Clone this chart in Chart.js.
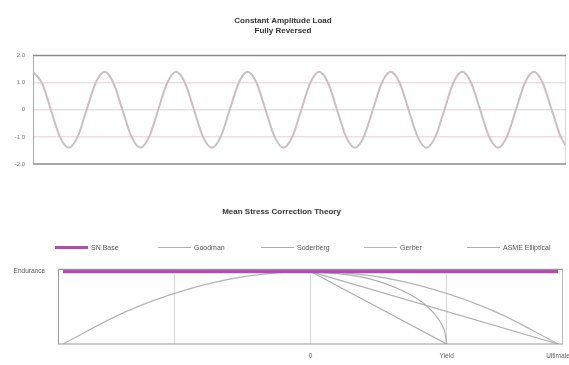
<!DOCTYPE html>
<html>
<head>
<meta charset="utf-8">
<script src="https://cdn.jsdelivr.net/npm/chart.js@4"></script>
<style>
html,body{margin:0;padding:0;background:#fff;width:569px;height:365px;overflow:hidden;font-family:'Liberation Sans',Arial,sans-serif;}
#c1{position:absolute;left:0;top:0;}
#c2{position:absolute;left:0;top:188px;}
#legend{position:absolute;left:55px;top:242px;display:flex;}
.li{width:103px;display:flex;align-items:center;font-size:7px;color:#555;height:10px;}
.ln{width:33px;margin-right:3px;}
</style>
</head>
<body>
<canvas id="c1" width="569" height="188"></canvas>
<canvas id="c2" width="569" height="177"></canvas>
<div id="legend"></div>
<script>
// ---------- Top chart data ----------
const loadTime = [
 0,0.125,0.25,0.375,0.5,0.625,0.75,0.875,
 1,1.125,1.25,1.375,1.5,1.625,1.75,1.875,
 2,2.125,2.25,2.375,2.5,2.625,2.75,2.875,
 3,3.125,3.25,3.375,3.5,3.625,3.75,3.875,
 4,4.125,4.25,4.375,4.5,4.625,4.75,4.875,
 5,5.125,5.25,5.375,5.5,5.625,5.75,5.875,
 6,6.125,6.25,6.375,6.5,6.625,6.75,6.875,
 7,7.125,7.25,7.375,7.45
];
const loadStress = [
 1.4,0.99,0,-0.99,-1.4,-0.99,0,0.99,
 1.4,0.99,0,-0.99,-1.4,-0.99,0,0.99,
 1.4,0.99,0,-0.99,-1.4,-0.99,0,0.99,
 1.4,0.99,0,-0.99,-1.4,-0.99,0,0.99,
 1.4,0.99,0,-0.99,-1.4,-0.99,0,0.99,
 1.4,0.99,0,-0.99,-1.4,-0.99,0,0.99,
 1.4,0.99,0,-0.99,-1.4,-0.99,0,0.99,
 1.4,0.99,0,-0.99,-1.33
];
const loadTickValues = [-2,-1,0,1,2];
const loadTickLabels = ['-2.0','-1.0','0','1.0','2.0'];

// ---------- Bottom chart data ----------
const snBaseSm = [-100, 100];
const snBaseSa = [1, 1];
const goodmanSm = [0, 100];
const goodmanSa = [1, 0];
const soderbergSm = [0, 55];
const soderbergSa = [1, 0];
const gerberSm = [-100,-75,-50,-25,0,25,50,75,100];
const gerberSa = [0,0.44,0.75,0.94,1,0.94,0.75,0.44,0];
const asmeSm = [0,20,35,45,50,53,54.3,55];
const asmeSa = [1,0.93,0.77,0.58,0.42,0.27,0.16,0];
const theoryNames = ['SN Base','Goodman','Soderberg','Gerber','ASME Elliptical'];
const msTickValues = [-55, 0, 55, 100];
const msTickLabels = ['', '0', 'Yield', 'Ultimate'];
const msYTickValues = [1];
const msYTickLabels = ['Endurance'];

const FONT = "'Liberation Sans', Arial, sans-serif";
function pts(xs, ys){ return xs.map((x,i)=>({x:x,y:ys[i]})); }

const framePlugin = {
  id:'frame',
  afterDraw(chart, args, o){
    const a = chart.chartArea, ctx = chart.ctx;
    ctx.save();
    ctx.lineWidth = 1;
    ctx.strokeStyle = o.side || '#aaa';
    ctx.beginPath(); ctx.moveTo(a.left+0.5, a.top); ctx.lineTo(a.left+0.5, a.bottom); ctx.stroke();
    ctx.strokeStyle = o.right || '#ccc';
    ctx.beginPath(); ctx.moveTo(a.right-0.5, a.top); ctx.lineTo(a.right-0.5, a.bottom); ctx.stroke();
    ctx.lineWidth = o.tbw || 1.5;
    ctx.strokeStyle = o.tb || '#888';
    ctx.beginPath(); ctx.moveTo(a.left, a.top); ctx.lineTo(a.right, a.top); ctx.stroke();
    ctx.beginPath(); ctx.moveTo(a.left, a.bottom); ctx.lineTo(a.right, a.bottom); ctx.stroke();
    ctx.restore();
  }
};

// ---------- Top chart ----------
new Chart(document.getElementById('c1'), {
  type:'line',
  data:{datasets:[{
    data: pts(loadTime, loadStress),
    borderColor:'#cdbcc4', borderWidth:2, pointRadius:0,
    cubicInterpolationMode:'monotone', fill:false
  }]},
  options:{
    responsive:false, animation:false,
    layout:{padding:{left:0,right:3,top:0,bottom:24}},
    plugins:{
      legend:{display:false}, tooltip:{enabled:false},
      title:{display:true, text:['Constant Amplitude Load','Fully Reversed'],
        color:'#333', font:{family:FONT,size:8,weight:'bold',lineHeight:1.35},
        padding:{top:15,bottom:19}},
      frame:{side:'#aaa', right:'#d8d8d8', tb:'#8a8a8a', tbw:1.5}
    },
    scales:{
      x:{type:'linear', display:false, min:0, max:7.45},
      y:{type:'linear', min:-2, max:2,
        afterBuildTicks(s){ s.ticks = loadTickValues.map(v=>({value:v})); },
        afterFit(s){ s.width = 33; s.paddingTop = 0; s.paddingBottom = 0; },
        ticks:{padding:8, color:'#777', font:{family:FONT,size:6},
          callback(v){ const i = loadTickValues.indexOf(v); return i>=0 ? loadTickLabels[i] : ''; }},
        grid:{drawTicks:false, color:(c)=> (c.tick && (c.tick.value===2||c.tick.value===-2)) ? 'rgba(0,0,0,0)' : '#eadfe3', lineWidth:1.5},
        border:{display:false}
      }
    }
  },
  plugins:[framePlugin]
});

// ---------- Bottom chart ----------
const datasets = [
  {label:theoryNames[0], data:pts(snBaseSm,snBaseSa), borderColor:'#a653ad', borderWidth:3.5},
  {label:theoryNames[1], data:pts(goodmanSm,goodmanSa), borderColor:'#b0b0b0', borderWidth:1.2},
  {label:theoryNames[2], data:pts(soderbergSm,soderbergSa), borderColor:'#ababab', borderWidth:1.2},
  {label:theoryNames[3], data:pts(gerberSm,gerberSa), borderColor:'#b4b4b4', borderWidth:1.2, cubicInterpolationMode:'monotone'},
  {label:theoryNames[4], data:pts(asmeSm,asmeSa), borderColor:'#adadad', borderWidth:1.2, cubicInterpolationMode:'monotone'}
].map(d=>Object.assign({pointRadius:0, fill:false}, d));
datasets[0].order = -1;

const ch2 = new Chart(document.getElementById('c2'), {
  type:'line',
  data:{datasets:datasets},
  options:{
    responsive:false, animation:false,
    layout:{padding:{left:0,right:6,top:0,bottom:0}},
    plugins:{
      legend:{display:false}, tooltip:{enabled:false},
      title:{display:true, text:'Mean Stress Correction Theory',
        color:'#333', font:{family:FONT,size:8,weight:'bold',lineHeight:1.3},
        padding:{top:19,bottom:52}},
      frame:{side:'#999', right:'#bbb', tb:'#999', tbw:1.2}
    },
    scales:{
      x:{type:'linear', min:-102, max:102,
        afterBuildTicks(s){ s.ticks = msTickValues.map(v=>({value:v})); },
        afterFit(s){ s.height = 21; s.paddingLeft = 0; s.paddingRight = 0; },
        ticks:{padding:8, color:'#666', font:{family:FONT,size:6.5}, maxRotation:0, autoSkip:false,
          callback(v){ const i = msTickValues.indexOf(v); return i>=0 ? msTickLabels[i] : ''; }},
        grid:{drawTicks:false, color:(c)=> (c.tick && c.tick.value===100) ? 'rgba(0,0,0,0)' : '#d6d6d6', lineWidth:1},
        border:{display:false}
      },
      y:{type:'linear', min:0, max:1.03,
        afterBuildTicks(s){ s.ticks = msYTickValues.map(v=>({value:v})); },
        afterFit(s){ s.width = 58; s.paddingTop = 0; s.paddingBottom = 0; },
        ticks:{padding:5, color:'#555', font:{family:FONT,size:6.5},
          callback(v){ const i = msYTickValues.indexOf(v); return i>=0 ? msYTickLabels[i] : ''; }},
        grid:{display:false},
        border:{display:false}
      }
    }
  },
  plugins:[framePlugin]
});

// HTML legend built from the datasets
const lg = document.getElementById('legend');
ch2.data.datasets.forEach(d=>{
  const it = document.createElement('div'); it.className='li';
  const ln = document.createElement('div'); ln.className='ln';
  ln.style.borderTop = Math.min(d.borderWidth,3) + 'px solid ' + d.borderColor;
  const tx = document.createElement('span'); tx.textContent = d.label;
  it.appendChild(ln); it.appendChild(tx); lg.appendChild(it);
});
</script>
</body>
</html>
